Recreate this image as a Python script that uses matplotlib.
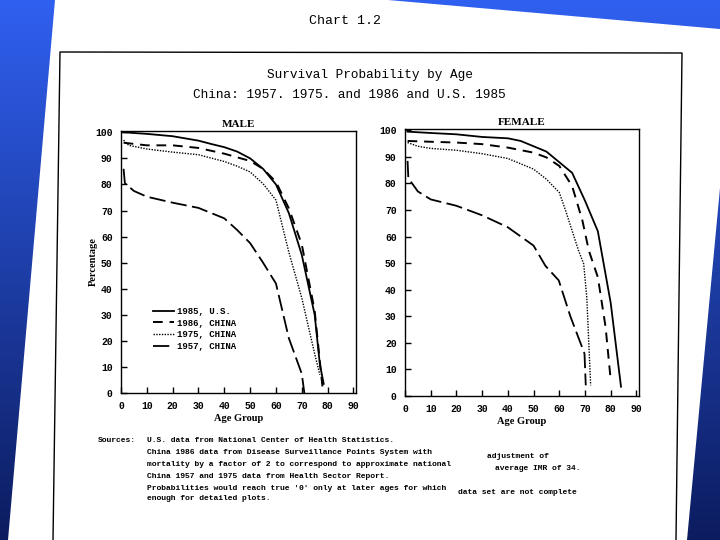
import numpy as np
import matplotlib
matplotlib.use("Agg")
import matplotlib.pyplot as plt

# --- data ---
m_us_age = [1, 10, 20, 30, 35, 40, 45, 50, 55, 60, 65, 70, 75, 77, 78.5]
m_us_val = [100, 99.4, 98.5, 96.8, 95.5, 94.3, 92.6, 90, 86, 80, 69, 53, 30, 11, 3.5]
m_86_age = [1, 10, 20, 30, 40, 50, 55, 60, 65, 70, 75, 78]
m_86_val = [96, 95, 95, 94, 91.8, 89, 86, 81, 70.8, 57, 31.5, 2.5]
m_75_age = [1, 3, 10, 20, 30, 40, 45, 50, 55, 60, 65, 70, 75, 77]
m_75_val = [97, 95, 93.6, 92.4, 91.4, 88.8, 87, 84.8, 80.3, 74, 54, 36.5, 15, 7]
m_57_age = [1, 1.5, 5, 10, 20, 30, 40, 45, 50, 55, 60, 65, 70, 71]
m_57_val = [86, 80.5, 77.5, 75.3, 73, 71, 67, 62.5, 57.5, 50, 42, 21, 7.4, 0]

f_us_age = [1, 10, 20, 30, 40, 45, 50, 55, 60, 65, 70, 75, 80, 84]
f_us_val = [99.5, 99, 98.5, 97.5, 97, 96, 94, 92, 88, 84, 73.5, 62, 35, 3.5]
f_86_age = [1, 10, 20, 30, 40, 50, 55, 60, 65, 69, 71.5, 75, 78, 80]
f_86_val = [96, 95.7, 95.4, 94.8, 93.5, 91.6, 89.8, 86.6, 79, 66, 54.7, 44.7, 26, 6]
f_75_age = [1, 5, 10, 20, 30, 40, 50, 55, 60, 62.5, 67.5, 69.5, 70.7, 72.2]
f_75_val = [95.4, 94, 93.2, 92.5, 91.2, 89.4, 85.4, 81.6, 76.6, 69.7, 54.7, 49.7, 37, 4]
f_57_age = [1, 1.3, 5, 10, 20, 30, 40, 50, 54.6, 59.8, 64.3, 69.8, 70.3]
f_57_val = [88.5, 82, 77, 74, 71.6, 68, 63.5, 56.6, 49, 43.5, 30, 16, 4]

series_labels = ["1985, U.S.", "1986, CHINA", "1975, CHINA", "1957, CHINA"]
x_ticks = list(range(0, 100, 10))
y_ticks = list(range(0, 110, 10))

styles = [
    dict(ls="-", lw=1.3),
    dict(ls=(0, (5, 3.5)), lw=1.4),
    dict(ls=(0, (1, 1)), lw=1.0),
    dict(ls=(0, (9, 3)), lw=1.3),
]

mono = "Liberation Mono"
serif = "Liberation Serif"

fig = plt.figure(figsize=(7.2, 5.4), dpi=100)

# background: blue gradient + tilted white page (pixel coords)
bg = fig.add_axes([0, 0, 1, 1])
bg.set_xlim(0, 720)
bg.set_ylim(540, 0)
bg.axis("off")
top = np.array([48, 96, 240]) / 255
bot = np.array([12, 28, 95]) / 255
t = np.linspace(0, 1, 256)[:, None]
grad = (top[None, :] * (1 - t) + bot[None, :] * t)[:, None, :]
bg.imshow(grad, extent=(0, 720, 540, 0), aspect="auto", zorder=0)
page = plt.Polygon([(55, 0), (388, 0), (720, 29), (720, 188), (687, 540), (8, 540)],
                   closed=True, fc="white", ec="none", zorder=1)
bg.add_patch(page)
bg.plot([53, 60, 682, 676], [540, 52, 53, 540], color="black", lw=1.0, zorder=2)

fig.text(345 / 720, 1 - 21 / 540, "Chart 1.2", family=mono, fontsize=9.5,
         ha="center", va="center")
fig.text(267 / 720, 1 - 75 / 540, "Survival Probability by Age", family=mono,
         fontsize=9.2, ha="left", va="center")
fig.text(193 / 720, 1 - 95 / 540, "China: 1957. 1975. and 1986 and U.S. 1985",
         family=mono, fontsize=9.2, ha="left", va="center")


def panel(rect, title, data):
    ax = fig.add_axes(rect)
    for (ages, vals), st in zip(data, styles):
        ax.plot(ages, vals, color="black", **st)
    ax.set_xlim(0, 91)
    ax.set_ylim(0, 100.5)
    ax.set_xticks(x_ticks)
    ax.set_yticks(y_ticks)
    ax.tick_params(direction="in", length=4, width=1, top=False, right=False,
                   pad=6)
    for lab in ax.get_xticklabels() + ax.get_yticklabels():
        lab.set_family(mono)
        lab.set_fontweight("bold")
        lab.set_fontsize(7)
    for sp in ax.spines.values():
        sp.set_linewidth(1.0)
    ax.set_title(title, family=serif, fontweight="bold", fontsize=8, pad=3)
    ax.set_xlabel("Age Group", family=serif, fontweight="bold", fontsize=7.5,
                  labelpad=2)
    return ax


male = panel([121 / 720, 1 - 393 / 540, 235 / 720, 262 / 540], "MALE",
             [(m_us_age, m_us_val), (m_86_age, m_86_val),
              (m_75_age, m_75_val), (m_57_age, m_57_val)])
male.set_ylabel("Percentage", family=serif, fontweight="bold", fontsize=7.5,
                labelpad=-2)
leg = male.legend(male.get_lines(), series_labels, loc="upper left",
                  bbox_to_anchor=(0.1, 0.36), frameon=False, handlelength=2.4,
                  handletextpad=0.3, labelspacing=0.3,
                  prop=dict(family=mono, weight="bold", size=6.5))

female = panel([405 / 720, 1 - 396 / 540, 234 / 720, 267 / 540], "FEMALE",
               [(f_us_age, f_us_val), (f_86_age, f_86_val),
                (f_75_age, f_75_val), (f_57_age, f_57_val)])
female.title.set_y(1.005)

# sources block
src_kw = dict(family=mono, fontweight="bold", fontsize=5.8, va="center", ha="left")
fig.text(98 / 720, 1 - 440 / 540, "Sources:", **src_kw)
src_lines = [
    (147, 440, "U.S. data from National Center of Health Statistics."),
    (147, 452, "China 1986 data from Disease Surveillance Points System with"),
    (487, 456, "adjustment of"),
    (147, 464, "mortality by a factor of 2 to correspond to approximate national"),
    (495, 469, "average IMR of 34."),
    (147, 476, "China 1957 and 1975 data from Health Sector Report."),
    (147, 488, "Probabilities would reach true '0' only at later ages for which"),
    (458, 492, "data set are not complete"),
    (147, 499, "enough for detailed plots."),
]
for x, y, s in src_lines:
    fig.text(x / 720, 1 - y / 540, s, **src_kw)

fig.savefig("out.png", dpi=100)
